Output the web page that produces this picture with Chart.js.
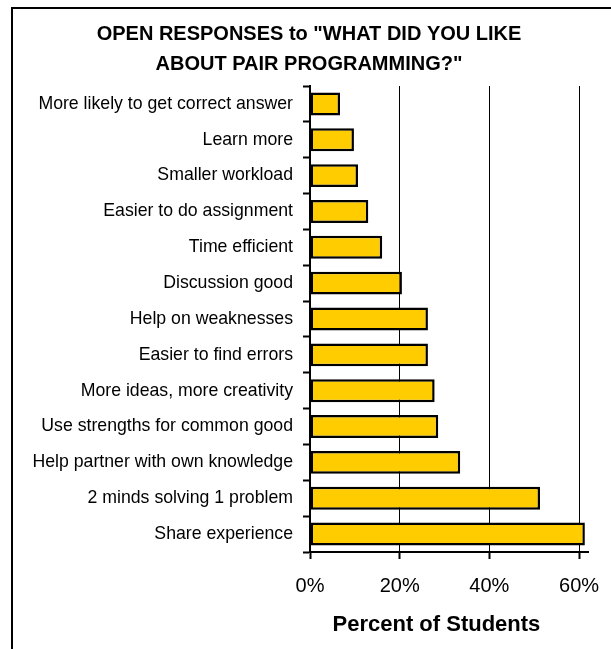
<!DOCTYPE html>
<html>
<head>
<meta charset="utf-8">
<script src="https://cdn.jsdelivr.net/npm/chart.js@4/dist/chart.umd.min.js"></script>
<style>
  html, body { margin: 0; padding: 0; background: #fff; }
  #wrap { position: relative; width: 611px; height: 649px; overflow: hidden; }
  #frame { position: absolute; left: 11px; top: 7px; width: 700px; height: 700px;
           border-left: 2px solid #000; border-top: 2px solid #000; }
  #c { position: absolute; left: 0; top: 0; }
</style>
</head>
<body>
<div id="wrap">
  <div id="frame"></div>
  <canvas id="c" width="611" height="649"></canvas>
</div>
<script>
const chartTitle = ['OPEN RESPONSES to "WHAT DID YOU LIKE', 'ABOUT PAIR PROGRAMMING?"'];
const axisTitle = 'Percent of Students';
const categories = [
  'More likely to get correct answer',
  'Learn more',
  'Smaller workload',
  'Easier to do assignment',
  'Time efficient',
  'Discussion good',
  'Help on weaknesses',
  'Easier to find errors',
  'More ideas, more creativity',
  'Use strengths for common good',
  'Help partner with own knowledge',
  '2 minds solving 1 problem',
  'Share experience'
];
const percentValues = [6.7, 9.8, 10.7, 13.0, 16.1, 20.5, 26.3, 26.3, 27.8, 28.6, 33.5, 51.3, 61.3];
const xTickValues = [0, 20, 40, 60];

const FONT = "'Liberation Sans', Arial, Helvetica, sans-serif";

const axisTitlePlugin = {
  id: 'axisTitleOffset',
  afterDraw(chart) {
    const ctx = chart.ctx;
    const xs = chart.scales.x;
    ctx.save();
    ctx.font = 'bold 22px ' + FONT;
    ctx.fillStyle = '#000';
    ctx.textAlign = 'center';
    ctx.textBaseline = 'alphabetic';
    ctx.fillText(axisTitle, xs.getPixelForValue(28.2), chart.chartArea.bottom + 79);
    ctx.restore();
  }
};

new Chart(document.getElementById('c'), {
  type: 'bar',
  data: {
    labels: categories,
    datasets: [{
      data: percentValues,
      backgroundColor: '#FFCC00',
      borderColor: '#000',
      borderWidth: 2.5,
      borderSkipped: false,
      barPercentage: 0.64,
      categoryPercentage: 1.0
    }]
  },
  options: {
    indexAxis: 'y',
    responsive: false,
    devicePixelRatio: 1,
    animation: false,
    layout: { padding: { left: 7, right: 0, top: 8, bottom: 0 } },
    plugins: {
      legend: { display: false },
      tooltip: { enabled: false },
      title: {
        display: true,
        text: chartTitle,
        color: '#000',
        font: { family: FONT, size: 20, weight: 'bold', lineHeight: 1.5 },
        padding: { top: 11, bottom: 7 }
      }
    },
    scales: {
      x: {
        type: 'linear',
        min: 0,
        max: 62,
        afterBuildTicks(scale) { scale.ticks = xTickValues.map(v => ({ value: v })); },
        afterFit(scale) {
          scale.height = 97;
          scale.paddingLeft = 0;
          scale.paddingRight = 23;
        },
        ticks: {
          color: '#000',
          font: { family: FONT, size: 20 },
          padding: 15,
          maxRotation: 0,
          callback: v => v + '%'
        },
        grid: {
          color: '#000',
          lineWidth: 1,
          drawTicks: true,
          tickLength: 7,
          tickColor: '#000',
          tickWidth: 2
        },
        border: { display: true, color: '#000', width: 2 }
      },
      y: {
        type: 'category',
        afterFit(scale) { scale.width = 303; },
        ticks: {
          color: '#000',
          font: { family: FONT, size: 17.7 },
          padding: 10
        },
        grid: {
          drawOnChartArea: false,
          drawTicks: true,
          tickLength: 7,
          tickColor: '#000',
          tickWidth: 2,
          offset: true
        },
        border: { display: true, color: '#000', width: 2 }
      }
    }
  },
  plugins: [axisTitlePlugin]
});
</script>
</body>
</html>
